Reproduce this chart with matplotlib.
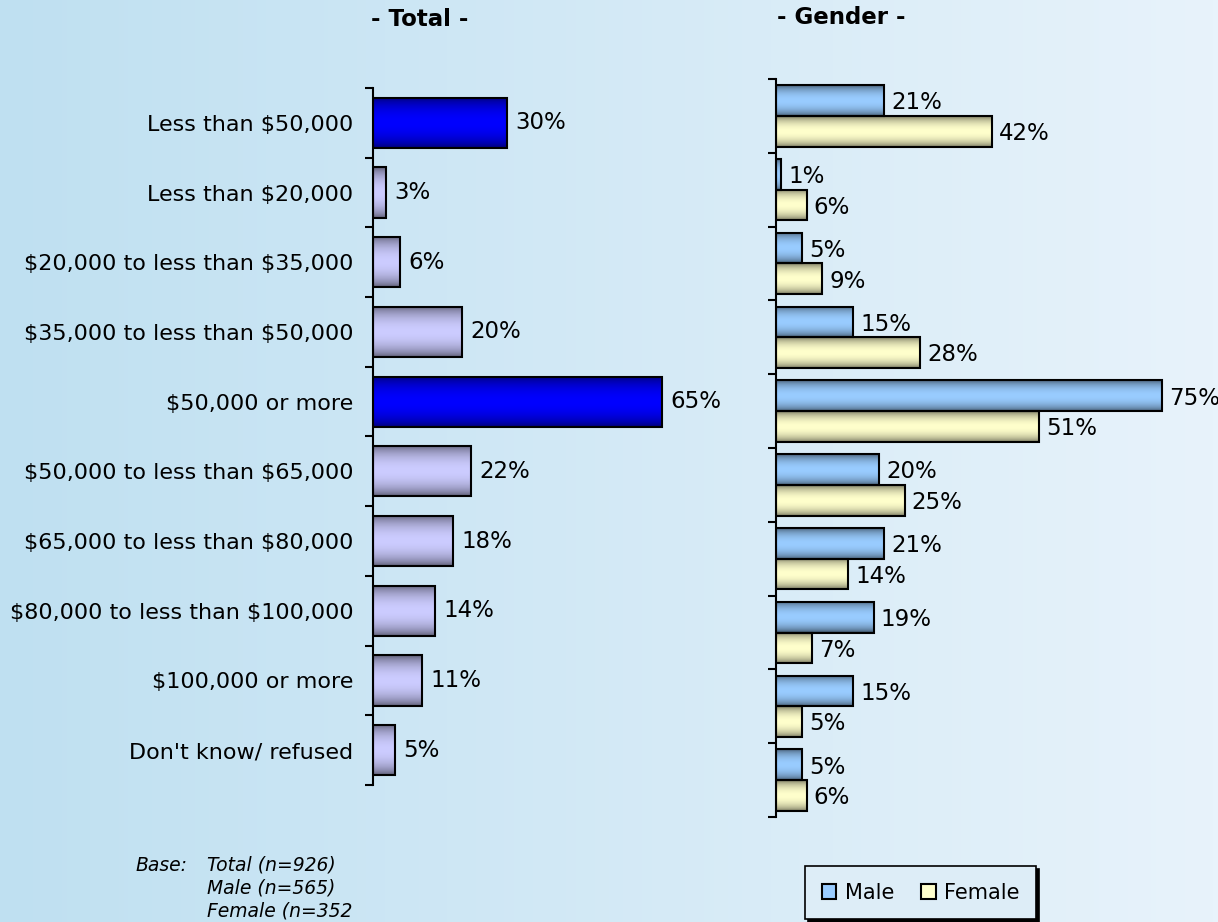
import numpy as np
import matplotlib
matplotlib.use("Agg")
import matplotlib.pyplot as plt
from matplotlib.colors import to_rgb
from matplotlib.patches import Patch

categories = ["Less than $50,000", "Less than $20,000", "$20,000 to less than $35,000",
              "$35,000 to less than $50,000", "$50,000 or more", "$50,000 to less than $65,000",
              "$65,000 to less than $80,000", "$80,000 to less than $100,000",
              "$100,000 or more", "Don't know/ refused"]
total = [30, 3, 6, 20, 65, 22, 18, 14, 11, 5]
male = [21, 1, 5, 15, 75, 20, 21, 19, 15, 5]
female = [42, 6, 9, 28, 51, 25, 14, 7, 5, 6]
highlight = [0, 4]   # summary rows drawn in dark blue

W, H = 1218, 922
plt.rcParams['font.family'] = ['DejaVu Sans']


def shade(color, n=64, dark=0.42):
    # cylinder-like vertical shading: dark edges, bright middle
    t = np.linspace(0, 1, n)
    f = np.sin(np.pi * t) ** 0.6
    rgb = np.array(to_rgb(color))
    lo = rgb * dark
    return (lo + (rgb - lo) * f[:, None])[:, None, :]


def shaded_bars(ax, bars, colors):
    for p, c in zip(bars, colors):
        x0, y0, w, h = p.get_x(), p.get_y(), p.get_width(), p.get_height()
        im = ax.imshow(shade(c), extent=[x0, x0 + w, y0 + h, y0], aspect='auto',
                       interpolation='bilinear', zorder=2)
        im.set_clip_path(p)


def style_axis(ax, n):
    for s in ['top', 'right', 'bottom']:
        ax.spines[s].set_visible(False)
    ax.spines['left'].set_linewidth(1.5)
    ax.set_facecolor('none')
    ax.set_xticks([])
    ax.set_yticks(np.arange(-0.5, n, 1), minor=True)
    ax.tick_params(axis='y', which='minor', length=6, width=1.5, direction='out')
    ax.set_ylim(n - 0.5, -0.5)


fig = plt.figure(figsize=(W / 100, H / 100), dpi=100)

# background gradient
bg = fig.add_axes([0, 0, 1, 1], zorder=-10)
grad = np.linspace(0, 1, 256)
c0, c1 = np.array(to_rgb('#bfe0f1')), np.array(to_rgb('#e8f3fb'))
bg.imshow((c0 + (c1 - c0) * grad[:, None])[None, :, :], aspect='auto', extent=[0, 1, 0, 1])
bg.set_axis_off()

n = len(categories)
y = np.arange(n)

# ---- Total panel
ax1 = fig.add_axes([373 / W, 1 - 785 / H, 356 / W, 697 / H])
cols = ['#0000ff' if i in highlight else '#ccccff' for i in range(n)]
b1 = ax1.barh(y, total, height=0.72, facecolor='none', edgecolor='black', lw=1.5, zorder=3)
shaded_bars(ax1, b1, cols)
ax1.set_xlim(0, 80)
style_axis(ax1, n)
ax1.set_yticks(y)
ax1.set_yticklabels([c.replace('$', r'\$') for c in categories], fontsize=16)
ax1.tick_params(axis='y', which='major', length=0, pad=14)
for yi, v in zip(y, total):
    ax1.annotate(f"{v}%", (v, yi), xytext=(6, 0), textcoords='offset points',
                 va='center', ha='left', fontsize=16.5)

# ---- Gender panel
ax2 = fig.add_axes([776 / W, 1 - 817 / H, 438 / W, 738 / H])
h = 0.415
bm = ax2.barh(y - h / 2, male, height=h, facecolor='none', edgecolor='black', lw=1.5, zorder=3)
bf = ax2.barh(y + h / 2, female, height=h, facecolor='none', edgecolor='black', lw=1.5, zorder=3)
shaded_bars(ax2, bm, ['#99ccff'] * n)
shaded_bars(ax2, bf, ['#ffffcc'] * n)
ax2.set_xlim(0, 85)
style_axis(ax2, n)
ax2.set_yticks([])
for yi, m, f in zip(y, male, female):
    ax2.annotate(f"{m}%", (m, yi - h / 2 + 0.03), xytext=(5, 0), textcoords='offset points',
                 va='center', ha='left', fontsize=16.5)
    ax2.annotate(f"{f}%", (f, yi + h / 2 + 0.03), xytext=(5, 0), textcoords='offset points',
                 va='center', ha='left', fontsize=16.5)

# titles
fig.text(420 / W, 1 - 20 / H, "- Total -", ha='center', va='center', fontsize=16.5, fontweight='bold')
fig.text(841 / W, 1 - 18 / H, "- Gender -", ha='center', va='center', fontsize=16.5, fontweight='bold')

# base note
fig.text(135 / W, 1 - 865 / H, "Base:", ha='left', va='center', fontsize=13.5, style='italic')
for i, s in enumerate(["Total (n=926)", "Male (n=565)", "Female (n=352"]):
    fig.text(207 / W, 1 - (865 + 23 * i) / H, s, ha='left', va='center', fontsize=13.5, style='italic')

# legend
handles = [Patch(facecolor='#99ccff', edgecolor='black', lw=1.5, label='Male'),
           Patch(facecolor='#ffffcc', edgecolor='black', lw=1.5, label='Female')]
leg = fig.legend(handles=handles, loc='upper left', bbox_to_anchor=(805 / W, 1 - 866 / H),
                 ncol=2, fontsize=15, frameon=True, fancybox=False,
                 shadow={'color': 'black', 'alpha': 1}, handlelength=0.7, handleheight=0.7,
                 handletextpad=0.4, columnspacing=1.3, borderpad=0.8, borderaxespad=0)
leg.get_frame().set_facecolor('#ddedf7')
leg.get_frame().set_edgecolor('black')
leg.get_frame().set_linewidth(1.2)
leg.get_frame().set_alpha(1)

fig.savefig("out.png", dpi=100)
